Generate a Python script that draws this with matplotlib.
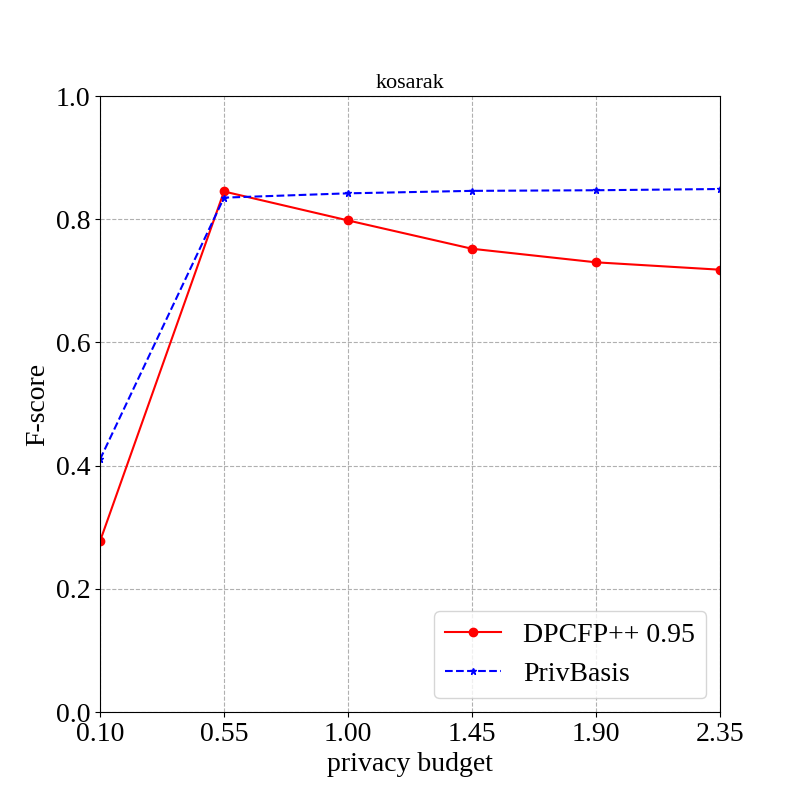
import matplotlib
matplotlib.use('Agg')
import matplotlib.pyplot as plt

plt.rcParams['font.family'] = ['Liberation Serif', 'DejaVu Serif']

budgets = [0.10, 0.55, 1.00, 1.45, 1.90, 2.35]
dpcfp = [0.277, 0.845, 0.798, 0.752, 0.730, 0.718]
privbasis = [0.41, 0.835, 0.842, 0.846, 0.847, 0.849]

fig = plt.figure(figsize=(8, 8), dpi=100)
ax = fig.add_subplot(111)
ax.plot(budgets, dpcfp, color='red', marker='o', markersize=6, label='DPCFP++ 0.95')
ax.plot(budgets, privbasis, color='blue', linestyle='--', marker='*', markersize=5, label='PrivBasis')

ax.set_xlim(0.10, 2.35)
ax.set_ylim(0.0, 1.0)
ax.set_xticks(budgets)
ax.set_xticklabels(['%.2f' % b for b in budgets])
ax.set_yticks([0.0, 0.2, 0.4, 0.6, 0.8, 1.0])
ax.tick_params(labelsize=20)
ax.grid(True, linestyle='--', color='#b0b0b0')
ax.set_xlabel('privacy budget', fontsize=20)
ax.set_ylabel('F-score', fontsize=20)
ax.set_title('kosarak', fontsize=16)
ax.legend(loc='lower right', fontsize=20)

plt.savefig('out.png')
